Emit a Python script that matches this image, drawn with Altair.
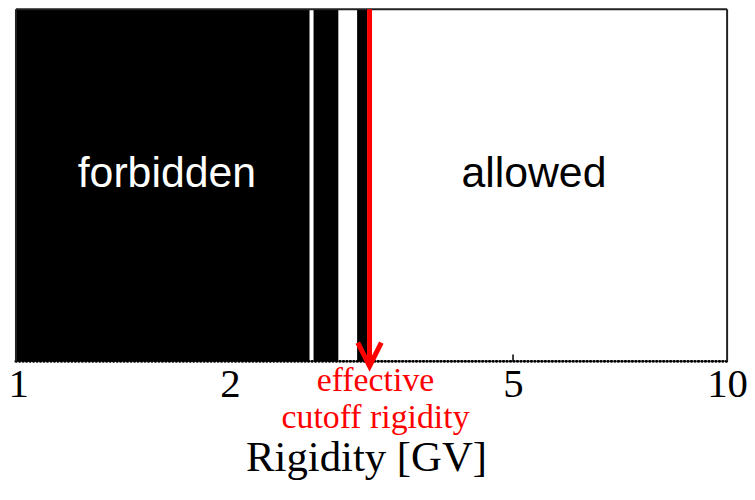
import altair as alt
import pandas as pd

# Forbidden rigidity bands (GV)
forbidden_start = [1.0, 2.621, 3.018]
forbidden_end = [2.587, 2.840, 3.117]
cutoff = 3.142
tick_values = [1, 2, 5, 10]
region_labels = ["forbidden", "allowed"]
region_pos = [1.63, 5.35]
region_colors = ["white", "black"]

W, H = 715, 354

bands = pd.DataFrame({"start": forbidden_start, "end": forbidden_end})
regions = pd.DataFrame({"label": region_labels, "R": region_pos, "color": region_colors})
cut = pd.DataFrame({"R": [cutoff]})
base_df = pd.DataFrame({"a": [tick_values[0]], "b": [tick_values[-1]]})
minor = pd.DataFrame({"R": tick_values[1:3]})

xscale = alt.Scale(type="log", domain=[1, 10], nice=False)
xaxis = alt.Axis(
    values=tick_values, format="d", title="Rigidity [GV]",
    domain=False, ticks=False, grid=False,
    labelFont="Liberation Serif", labelFontSize=41, labelColor="black",
    labelPadding=3, labelFlush=False,
    labelAlign={"condition": {"test": "datum.value === 1", "value": "left"}, "value": "center"},
    labelOffset={"condition": {"test": "datum.value === 1", "value": -8}, "value": 0},
    titleFont="Liberation Serif", titleFontSize=43, titleFontWeight="normal",
    titleColor="black", titleX=352, titleY=110, titleBaseline="alphabetic",
    titleAlign="center",
)

bars = alt.Chart(bands).mark_rect(color="black").encode(
    x=alt.X("start:Q", scale=xscale, axis=xaxis),
    x2="end:Q",
    y=alt.value(0), y2=alt.value(H),
)

dots = alt.Chart(base_df).mark_rule(
    color="black", strokeWidth=3, strokeDash=[0.5, 3], strokeCap="round"
).encode(x=alt.X("a:Q", scale=xscale), x2="b:Q", y=alt.value(H))

minor_ticks = alt.Chart(minor).mark_rule(color="black", strokeWidth=1.5).encode(
    x=alt.X("R:Q", scale=xscale), y=alt.value(H - 7), y2=alt.value(H)
)

frame_top = alt.Chart(base_df).mark_rule(color="#222", strokeWidth=2).encode(
    x=alt.X("a:Q", scale=xscale), x2="b:Q", y=alt.value(0)
)
frame_sides = alt.Chart(pd.DataFrame({"R": [tick_values[0], tick_values[-1]]})).mark_rule(
    color="#222", strokeWidth=2
).encode(x=alt.X("R:Q", scale=xscale), y=alt.value(0), y2=alt.value(H))

arrow_line = alt.Chart(cut).mark_rule(color="#ff0000", strokeWidth=5).encode(
    x=alt.X("R:Q", scale=xscale), y=alt.value(0), y2=alt.value(H + 3)
)
arrow_head = alt.Chart(cut).mark_point(
    shape="M-1,-1L0,1L1,-1", filled=False, stroke="#ff0000", strokeWidth=5,
    size=560, opacity=1, strokeJoin="miter"
).encode(x=alt.X("R:Q", scale=xscale), y=alt.value(H - 7))

cut_text = alt.Chart(cut).mark_text(
    font="Liberation Serif", fontSize=34, color="#ff0000", align="center",
    baseline="alphabetic", lineHeight=37, dx=6
).encode(
    x=alt.X("R:Q", scale=xscale), y=alt.value(H + 30),
    text=alt.value(["effective", "cutoff rigidity"]),
)

region_text = alt.Chart(regions).mark_text(
    font="Liberation Sans", fontSize=43, align="center", baseline="alphabetic"
).encode(
    x=alt.X("R:Q", scale=xscale), y=alt.value(179),
    text="label:N", color=alt.Color("color:N", scale=None),
)

chart = alt.layer(
    bars, dots, minor_ticks, frame_top, frame_sides, arrow_line, arrow_head,
    cut_text, region_text
).properties(
    width=W, height=H,
    autosize=alt.AutoSizeParams(type="none"),
    padding={"left": 8, "top": 0, "right": 20, "bottom": 120},
).configure_view(stroke=None)

chart.save("out.html", embed_options={"renderer": "svg", "actions": False})
